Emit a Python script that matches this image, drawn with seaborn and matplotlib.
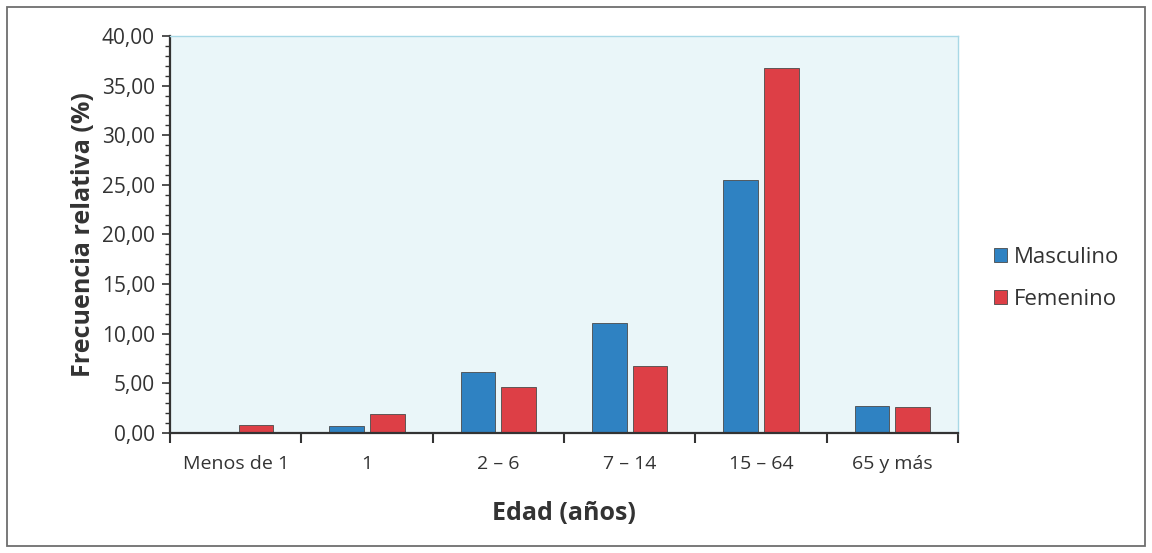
import pandas as pd
import matplotlib.pyplot as plt
import seaborn as sns
from matplotlib.ticker import FuncFormatter, MultipleLocator, FixedLocator
from matplotlib.patches import Rectangle

sns.set_theme(style='white')
plt.rcParams['font.family'] = ['Open Sans', 'DejaVu Sans']

edades = ['Menos de 1', '1', '2 – 6', '7 – 14', '15 – 64', '65 y más']
masculino = [0.0, 0.75, 6.1, 11.1, 25.5, 2.75]
femenino = [0.8, 1.9, 4.6, 6.75, 36.8, 2.65]

df = pd.DataFrame({
    'Edad': edades * 2,
    'Valor': masculino + femenino,
    'Sexo': ['Masculino'] * len(edades) + ['Femenino'] * len(edades),
})

fig = plt.figure(figsize=(11.52, 5.53), dpi=100)
fig.patches.append(Rectangle((0.006, 0.012), 0.988, 0.976, transform=fig.transFigure,
                             fill=False, edgecolor='#6e6e6e', linewidth=1.3))
ax = fig.add_axes([0.1476, 0.217, 0.684, 0.718])
ax.set_facecolor('#eaf6f9')

sns.barplot(data=df, x='Edad', y='Valor', hue='Sexo', order=edades,
            palette={'Masculino': '#2f82c2', 'Femenino': '#dd3f46'}, saturation=1,
            width=0.62, gap=0.15, edgecolor='#4a4a4a', linewidth=0.6, ax=ax)

ax.set_ylim(0, 40)
ax.set_xlim(-0.5, len(edades) - 0.5)
ax.yaxis.set_major_locator(MultipleLocator(5))
ax.yaxis.set_minor_locator(MultipleLocator(1))
ax.yaxis.set_major_formatter(FuncFormatter(lambda v, p: f'{v:.2f}'.replace('.', ',')))
ax.xaxis.set_minor_locator(FixedLocator([i - 0.5 for i in range(len(edades) + 1)]))

ax.tick_params(axis='y', which='major', length=6, width=1.2, color='#333333',
               labelsize=15, labelcolor='#333333', left=True, direction='out', pad=5)
ax.tick_params(axis='y', which='minor', length=3.5, width=1, color='#333333', left=True)
ax.tick_params(axis='x', which='major', length=0, labelsize=14, labelcolor='#333333', pad=16)
ax.tick_params(axis='x', which='minor', length=7, width=1.5, color='#333333', bottom=True)

for s in ['left', 'bottom']:
    ax.spines[s].set_color('#333333')
    ax.spines[s].set_linewidth(1.6)
for s in ['top', 'right']:
    ax.spines[s].set_color('#a8d8e6')
    ax.spines[s].set_linewidth(1)

ax.set_xlabel('Edad (años)', fontsize=18, fontweight='bold', color='#333333', labelpad=20)
ax.set_ylabel('Frecuencia relativa (%)', fontsize=18, fontweight='bold', color='#333333', labelpad=4)

h, l = ax.get_legend_handles_labels()
ax.legend(h, l, loc='center left', bbox_to_anchor=(1.02, 0.39), frameon=False,
          fontsize=16, handlelength=0.6, handleheight=0.6, handletextpad=0.3,
          labelspacing=0.95, labelcolor='#333333')

fig.savefig('out.png', dpi=100)
